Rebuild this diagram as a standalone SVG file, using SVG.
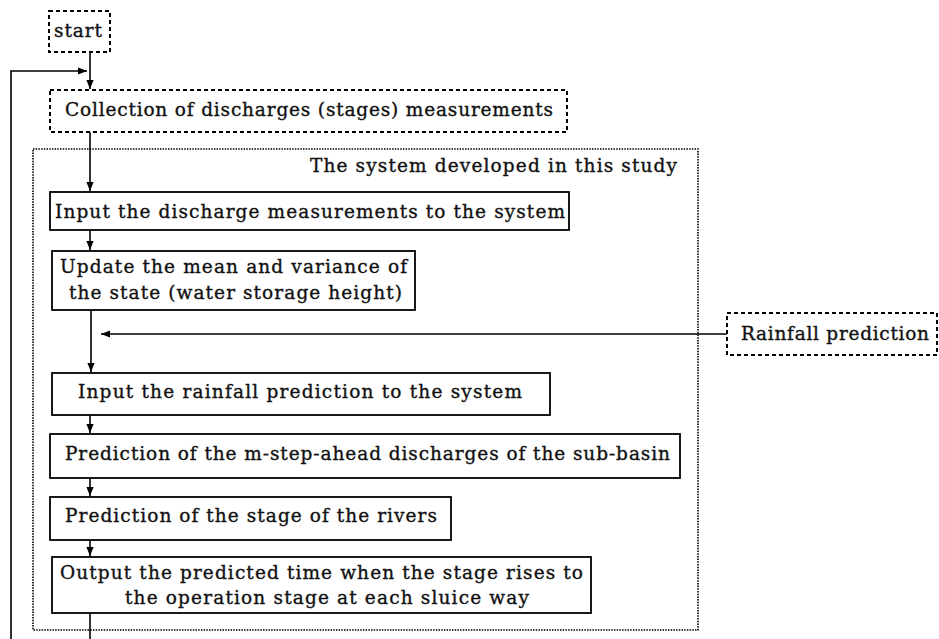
<svg xmlns="http://www.w3.org/2000/svg" width="939" height="639" viewBox="0 0 939 639">
<defs>
<marker id="ah" viewBox="0 0 10 10" refX="10" refY="5" markerWidth="9" markerHeight="9" markerUnits="userSpaceOnUse" orient="auto">
<path d="M0,1 L10,5 L0,9 z" fill="#000"/>
</marker>
</defs>
<style>
.box{fill:#fff;stroke:#000;stroke-width:1.8}
.dash{fill:#fff;stroke:#000;stroke-width:2;stroke-dasharray:4 3}
.dot{fill:none;stroke:#000;stroke-width:1.6;stroke-dasharray:1.5 1.2}
.t{font-family:"DejaVu Serif","Liberation Serif",serif;font-size:18.5px;fill:#111;stroke:#111;stroke-width:0.35}
.c line,.c polyline{stroke:#000;stroke-width:1.6;fill:none}
</style>
<rect fill="#fff" width="939" height="639"/>
<g id="system">
<rect class="dot" x="33" y="149" width="665" height="481"/>
<text class="t" x="310" y="172" textLength="367" lengthAdjust="spacing">The system developed in this study</text>
</g>
<g id="start">
<rect class="dash" x="49" y="11" width="61" height="41"/>
<text class="t" x="54" y="37" textLength="48" lengthAdjust="spacing">start</text>
</g>
<g id="collection">
<rect class="dash" x="50" y="90" width="517" height="42"/>
<text class="t" x="65" y="116" textLength="488" lengthAdjust="spacing">Collection of discharges (stages) measurements</text>
</g>
<g id="input1">
<rect class="box" x="50" y="192" width="519" height="38"/>
<text class="t" x="55" y="218" textLength="510" lengthAdjust="spacing">Input the discharge measurements to the system</text>
</g>
<g id="update">
<rect class="box" x="52" y="251" width="363" height="59"/>
<text class="t" x="60" y="273" textLength="347" lengthAdjust="spacing">Update the mean and variance of</text>
<text class="t" x="69" y="299" textLength="333" lengthAdjust="spacing">the state (water storage height)</text>
</g>
<g id="rainfall">
<rect class="dash" x="727" y="313" width="210" height="42"/>
<text class="t" x="741" y="340" textLength="188" lengthAdjust="spacing">Rainfall prediction</text>
</g>
<g id="input2">
<rect class="box" x="52" y="373" width="498" height="42"/>
<text class="t" x="78" y="398" textLength="444" lengthAdjust="spacing">Input the rainfall prediction to the system</text>
</g>
<g id="mstep">
<rect class="box" x="50" y="434" width="630" height="44"/>
<text class="t" x="65" y="460" textLength="605" lengthAdjust="spacing">Prediction of the m-step-ahead discharges of the sub-basin</text>
</g>
<g id="stage">
<rect class="box" x="50" y="497" width="401" height="43"/>
<text class="t" x="65" y="522" textLength="372" lengthAdjust="spacing">Prediction of the stage of the rivers</text>
</g>
<g id="output">
<rect class="box" x="52" y="557" width="539" height="56"/>
<text class="t" x="60" y="579" textLength="523" lengthAdjust="spacing">Output the predicted time when the stage rises to</text>
<text class="t" x="125" y="604" textLength="404" lengthAdjust="spacing">the operation stage at each sluice way</text>
</g>
<g id="connectors" class="c">
<line x1="90" y1="52" x2="90" y2="89" marker-end="url(#ah)"/>
<polyline points="11,639 11,71 87,71" marker-end="url(#ah)"/>
<line x1="90" y1="132" x2="90" y2="191" marker-end="url(#ah)"/>
<line x1="90" y1="230" x2="90" y2="250" marker-end="url(#ah)"/>
<line x1="91" y1="310" x2="91" y2="372" marker-end="url(#ah)"/>
<line x1="727" y1="334" x2="101" y2="334" marker-end="url(#ah)"/>
<line x1="90" y1="415" x2="90" y2="433" marker-end="url(#ah)"/>
<line x1="90" y1="478" x2="90" y2="496" marker-end="url(#ah)"/>
<line x1="90" y1="540" x2="90" y2="556" marker-end="url(#ah)"/>
<line x1="90" y1="613" x2="90" y2="639"/>
</g>
</svg>
